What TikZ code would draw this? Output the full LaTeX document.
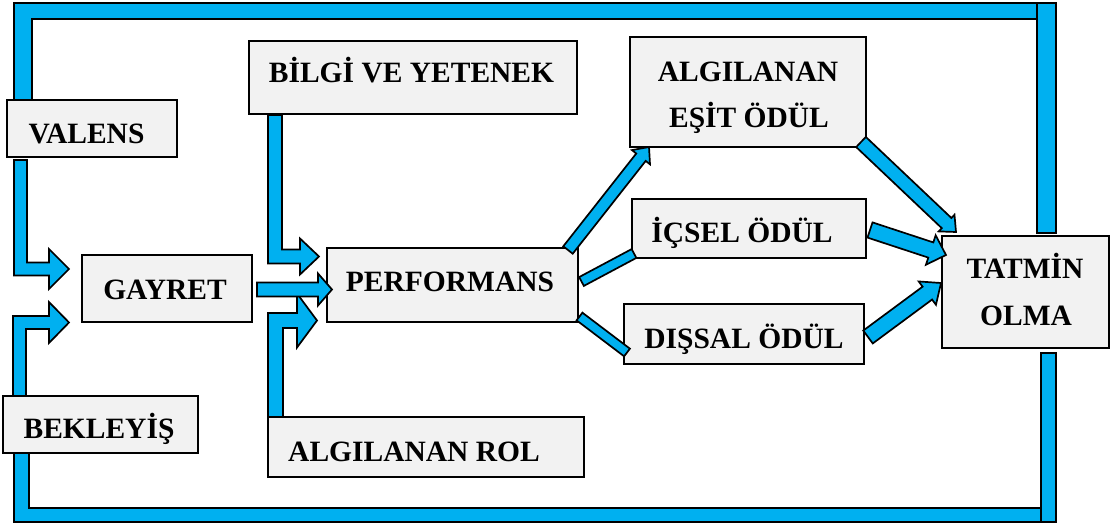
\documentclass[tikz,border=0pt]{standalone}
\usepackage{fontspec}
\setmainfont{Liberation Serif}
\usetikzlibrary{calc}

\definecolor{flowblue}{RGB}{0,176,240}
\definecolor{boxgray}{RGB}{242,242,242}

% straight block arrow: start, tip, half shaft width, half head width, head length
\newcommand{\straightarrow}[5]{%
  \coordinate (hb) at ($(#2)!#5!(#1)$);
  \draw[arrowbody] ($(#1)!#3!90:(#2)$) -- ($(hb)!#3!90:(#2)$) -- ($(hb)!#4!90:(#2)$)
    -- (#2) -- ($(hb)!#4!-90:(#2)$) -- ($(hb)!#3!-90:(#2)$) -- ($(#1)!#3!-90:(#2)$) -- cycle;}
% plain bar without head: start, end, half width
\newcommand{\blockbar}[3]{%
  \draw[arrowbody] ($(#1)!#3!90:(#2)$) -- ($(#2)!#3!-90:(#1)$)
    -- ($(#2)!#3!90:(#1)$) -- ($(#1)!#3!-90:(#2)$) -- cycle;}
% elbow block arrow, vertical shaft then horizontal to the right:
% start, tip, half shaft, half head, head length, sign (1 = shaft runs down)
\newcommand{\elbowarrow}[6]{%
  \draw[arrowbody] let \p1=(#1), \p2=(#2) in
    ({\x1-#3},\y1) -- ({\x1-#3},{\y2-(#6)*#3}) -- ({\x2-#5},{\y2-(#6)*#3})
    -- ({\x2-#5},{\y2-(#6)*#4}) -- (\x2,\y2) -- ({\x2-#5},{\y2+(#6)*#4})
    -- ({\x2-#5},{\y2+(#6)*#3}) -- ({\x1+#3},{\y2+(#6)*#3}) -- ({\x1+#3},\y1) -- cycle;}

\begin{document}
\begin{tikzpicture}[x=1pt,y=-1pt,
  box/.style={draw=black,line width=1.4pt,fill=boxgray,inner sep=0pt},
  lbl/.style={anchor=base,inner sep=0pt,font=\bfseries\fontsize{29.5}{34}\selectfont},
  band/.style={draw=black,line width=1.8pt,fill=flowblue,line join=miter},
  arrowbody/.style={draw=black,line width=1.7pt,fill=flowblue,line join=miter}]
\useasboundingbox (0,0) rectangle (1115,524);

% feedback frame
\draw[band] (14,100) -- (14,3) -- (1037,3) -- (1037,19) -- (32,19) -- (32,100) -- cycle;
\draw[band] (1037,3) rectangle (1056,233);
\draw[band] (14,453) -- (14,522) -- (1041,522) -- (1041,508) -- (29,508) -- (29,453) -- cycle;
\draw[band] (1041,353) rectangle (1056,522);

% boxes
\node[box,minimum width=170pt,minimum height=57pt] (valens) at (92,128.5) {};
\node[box,minimum width=170pt,minimum height=67pt] (gayret) at (167,288.5) {};
\node[box,minimum width=195pt,minimum height=57pt] (bekleyis) at (100.5,424.5) {};
\node[box,minimum width=328pt,minimum height=73pt] (bilgi) at (413,77.5) {};
\node[box,minimum width=251pt,minimum height=74pt] (perf) at (452.5,285) {};
\node[box,minimum width=316pt,minimum height=60pt] (rol) at (426,447) {};
\node[box,minimum width=236pt,minimum height=110pt] (esit) at (748,92) {};
\node[box,minimum width=234pt,minimum height=59pt] (icsel) at (749,228.5) {};
\node[box,minimum width=240pt,minimum height=60pt] (dissal) at (744,334) {};
\node[box,minimum width=167pt,minimum height=112pt] (tatmin) at (1025.5,292) {};

% texts
\node[lbl] (t-valens) at (86.5,143) {VALENS};
\node[lbl] (t-gayret) at (165,299) {GAYRET};
\node[lbl] (t-bekleyis) at (99,438) {BEKLEYİŞ};
\node[lbl] (t-bilgi) at (411.5,83) {BİLGİ VE YETENEK};
\node[lbl] (t-perf) at (450,291) {PERFORMANS};
\node[lbl] (t-rol) at (414,461) {ALGILANAN ROL};
\node[lbl] (t-esit1) at (748,82) {ALGILANAN};
\node[lbl] (t-esit2) at (749,128) {EŞİT ÖDÜL};
\node[lbl] (t-icsel) at (742,242) {İÇSEL ÖDÜL};
\node[lbl] (t-dissal) at (744,348) {DIŞSAL ÖDÜL};
\node[lbl] (t-tatmin1) at (1025,278) {TATMİN};
\node[lbl] (t-tatmin2) at (1026,325) {OLMA};

% connector end points
\coordinate (valens-out) at (20.5,160);
\coordinate (gayret-in1) at (69,269);
\coordinate (bekleyis-out) at (19.5,396);
\coordinate (gayret-in2) at (69,322.5);
\coordinate (bilgi-out) at (275,115);
\coordinate (perf-in1) at (319,256.5);
\coordinate (gayret-out) at (257,289.5);
\coordinate (perf-in2) at (332,289.5);
\coordinate (rol-out) at (275.5,417);
\coordinate (perf-in3) at (317,320.5);
\coordinate (perf-out1) at (568,250);
\coordinate (esit-in) at (649,147);
\coordinate (perf-out2) at (581.5,281.5);
\coordinate (icsel-in) at (634,253.5);
\coordinate (perf-out3) at (579.5,316.5);
\coordinate (dissal-in) at (627,352.5);
\coordinate (esit-out) at (861,142);
\coordinate (tatmin-in1) at (956,232);
\coordinate (icsel-out) at (870,230);
\coordinate (tatmin-in2) at (946,255);
\coordinate (dissal-out) at (868,337);
\coordinate (tatmin-in3) at (941,283);

% connectors
\elbowarrow{valens-out}{gayret-in1}{6.5pt}{20pt}{20pt}{1}
\elbowarrow{bekleyis-out}{gayret-in2}{6.5pt}{20.5pt}{20pt}{-1}
\elbowarrow{bilgi-out}{perf-in1}{7pt}{18pt}{19pt}{1}
\elbowarrow{rol-out}{perf-in3}{7.5pt}{27pt}{20pt}{-1}
\straightarrow{gayret-out}{perf-in2}{7pt}{16pt}{14pt}
\straightarrow{perf-out1}{esit-in}{6pt}{11.5pt}{13pt}
\blockbar{perf-out2}{icsel-in}{5pt}
\blockbar{perf-out3}{dissal-in}{4.8pt}
\straightarrow{esit-out}{tatmin-in1}{7pt}{11.5pt}{13pt}
\straightarrow{icsel-out}{tatmin-in2}{8pt}{15.5pt}{16pt}
\straightarrow{dissal-out}{tatmin-in3}{8pt}{14.5pt}{17pt}
\end{tikzpicture}
\end{document}
